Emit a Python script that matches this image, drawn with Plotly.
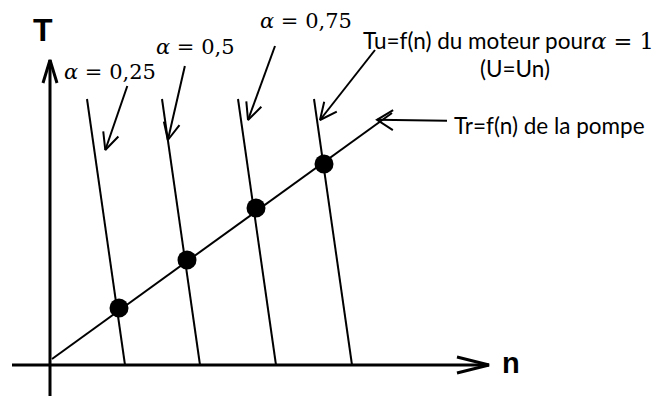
import plotly.graph_objects as go
import numpy as np

# ---- data (schematic units) ----
alpha = [0.25, 0.5, 0.75, 1.0]
motor_n_T0 = [75, 150, 226, 302]      # n where each motor curve meets T = 0
motor_n_Ttop = [37, 112, 188, 264]    # n at the top of each motor curve
motor_T_top = 266
pump_n = [2, 342]
pump_T = [6, 252]
op_n = [69, 137, 206, 274]            # operating points
op_T = [57, 105, 157, 201]
n_axis_end = 439
T_axis_end = 305

alpha_labels = ["0,25", "0,5", "0,75"]

# ---- layout constants ----
# the page body keeps an 8px margin, so the figure is 8px smaller each way
W, H = 662, 388
XR = [-42, 620]
YR = [-31, 357]
INK = "#000000"

fig = go.Figure()


def add_line(xs, ys, width):
    fig.add_trace(go.Scatter(x=xs, y=ys, mode="lines",
                             line=dict(color=INK, width=width),
                             hoverinfo="skip", showlegend=False))


def chevron(tail, tip, length, half, width):
    tx, ty = tip
    dx, dy = tip[0] - tail[0], tip[1] - tail[1]
    L = np.hypot(dx, dy)
    ux, uy = dx / L, dy / L
    px_, py_ = -uy, ux
    bx, by = tx - ux * length, ty - uy * length
    add_line([bx + px_ * half, tx, bx - px_ * half],
             [by + py_ * half, ty, by - py_ * half], width)


def arrow(tail, tip, width=2, length=17, half=8):
    add_line([tail[0], tip[0]], [tail[1], tip[1]], width)
    chevron(tail, tip, length, half, width)


def motor_n_at(i, T):
    return motor_n_T0[i] + (motor_n_Ttop[i] - motor_n_T0[i]) * T / motor_T_top


# axes
add_line([-38, n_axis_end], [0, 0], 3)
chevron((0, 0), (n_axis_end, 0), 32, 8, 3)
add_line([0, 0], [YR[0], T_axis_end], 3)
chevron((0, 0), (0, T_axis_end), 23, 7, 3)

# motor curves
for i in range(len(alpha)):
    add_line([motor_n_T0[i], motor_n_Ttop[i]], [0, motor_T_top], 2)

# pump curve
add_line(pump_n, pump_T, 2)

# operating points
fig.add_trace(go.Scatter(x=op_n, y=op_T, mode="markers",
                         marker=dict(color=INK, size=19, line=dict(width=0)),
                         hoverinfo="skip", showlegend=False))

# leader arrows: (tip T on curve, gap dx, tail offset dx, tail offset dy)
leaders = [(215, 11, 22, 64), (225, 0, 17, 74), (245, 7, 27, 74), (245, 3, 55, 70)]
for i, (tT, gap, ox, oy) in enumerate(leaders):
    tip = (motor_n_at(i, tT) + gap, tT)
    arrow((tip[0] + ox, tip[1] + oy), tip)

# pump leader
pump_slope = (pump_T[1] - pump_T[0]) / (pump_n[1] - pump_n[0])
tip_n = 327
tip = (tip_n, pump_T[0] + pump_slope * (tip_n - pump_n[0]) + 4)
arrow((tip[0] + 70, tip[1] - 1), tip, length=16, half=10)

# texts
SERIF = "DejaVu Serif"
SANS = "Lato"
ann = []
alpha_pos = [(60, 293), (145, 318), (256, 344)]
for (x, y), lab in zip(alpha_pos, alpha_labels):
    ann.append(dict(x=x, y=y, text=f"<i>α</i> = {lab}",
                    font=dict(family=SERIF, size=21, color=INK)))
ann.append(dict(x=458, y=325,
                text="Tu=f(n) du moteur pour<span style='font-family:DejaVu Serif'><i>α</i> = 1</span>",
                font=dict(family=SANS, size=22.5, color=INK)))
ann.append(dict(x=465, y=297, text="(U=Un)", font=dict(family=SANS, size=22.5, color=INK)))
ann.append(dict(x=402, y=240, text="Tr=f(n) de la pompe", xanchor="left",
                font=dict(family=SANS, size=22.5, color=INK)))
ann.append(dict(x=-7, y=335, text="<b>T</b>",
                font=dict(family="Liberation Sans", size=32, color=INK)))
ann.append(dict(x=461, y=2, text="<b>n</b>",
                font=dict(family="Liberation Sans", size=29, color=INK)))
for a in ann:
    a.setdefault("xanchor", "center")
    a.update(yanchor="middle", showarrow=False, xref="x", yref="y")

fig.update_layout(
    width=W, height=H,
    margin=dict(l=0, r=0, t=0, b=0),
    paper_bgcolor="white", plot_bgcolor="white",
    xaxis=dict(range=XR, visible=False, fixedrange=True),
    yaxis=dict(range=YR, visible=False, fixedrange=True),
    annotations=ann,
    showlegend=False,
)

fig.write_html("out.html", config={"displayModeBar": False})
